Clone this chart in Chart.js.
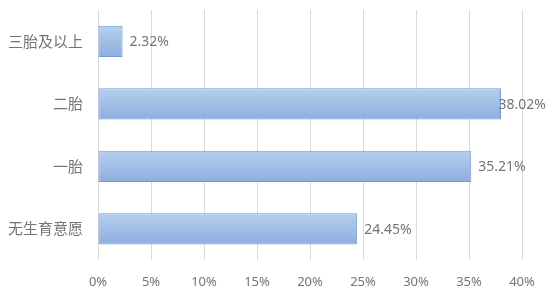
<!DOCTYPE html>
<html>
<head>
<meta charset="utf-8">
<script src="https://cdn.jsdelivr.net/npm/chart.js@4/dist/chart.umd.min.js"></script>
<style>
html,body{margin:0;padding:0;background:#fff;}
#wrap{width:550px;height:297px;position:relative;}
</style>
</head>
<body>
<div id="wrap"><canvas id="c" width="550" height="297"></canvas></div>
<script>
const categories = ["三胎及以上", "二胎", "一胎", "无生育意愿"];
const values = [2.32, 38.02, 35.21, 24.45];
const tickValues = [0, 5, 10, 15, 20, 25, 30, 35, 40];

const labelPlugin = {
  id: 'endLabels',
  afterDatasetsDraw(chart) {
    const ctx = chart.ctx;
    const meta = chart.getDatasetMeta(0);
    ctx.save();
    ctx.font = '14px "Noto Sans", sans-serif';
    ctx.fillStyle = '#747474';
    ctx.textBaseline = 'middle';
    meta.data.forEach((bar, i) => {
      const txt = values[i].toFixed(2) + '%';
      const w = ctx.measureText(txt).width;
      let x = bar.x + 7;
      if (x + w > chart.width - 4) x = chart.width - 4 - w;
      ctx.fillText(txt, x, bar.y + 1);
    });
    ctx.restore();
  }
};

new Chart(document.getElementById('c'), {
  type: 'bar',
  data: {
    labels: categories,
    datasets: [{
      data: values,
      backgroundColor: (context) => {
        const chart = context.chart;
        const ys = chart.scales && chart.scales.y;
        if (!ys || !chart.chartArea || context.dataIndex === undefined) return '#a3bfe8';
        const cy = ys.getPixelForValue(context.dataIndex);
        const half = (ys.height / categories.length) * 0.25;
        const g = chart.ctx.createLinearGradient(0, cy - half, 0, cy + half);
        g.addColorStop(0, '#b6cfee');
        g.addColorStop(1, '#8eaedf');
        return g;
      },
      borderColor: '#7199d2',
      borderWidth: 1,
      borderSkipped: false,
      categoryPercentage: 0.5,
      barPercentage: 1.0
    }]
  },
  options: {
    indexAxis: 'y',
    responsive: false,
    animation: false,
    devicePixelRatio: 1,
    layout: { padding: { top: 0, right: 28, left: 0, bottom: 0 } },
    plugins: { legend: { display: false }, tooltip: { enabled: false } },
    scales: {
      x: {
        min: 0, max: 40,
        afterBuildTicks: (s) => { s.ticks = tickValues.map(v => ({ value: v })); },
        afterFit: (s) => { s.height = 37; },
        grid: { color: '#d9d9d9', lineWidth: 1, drawTicks: false },
        border: { display: false },
        ticks: {
          padding: 14,
          color: '#747474',
          font: { family: '"Noto Sans", sans-serif', size: 13 },
          callback: (v) => v + '%'
        }
      },
      y: {
        afterFit: (s) => { s.width = 98; s.paddingTop = 10; s.paddingBottom = 0; },
        grid: { display: false, drawTicks: false },
        border: { display: false },
        ticks: {
          padding: 15,
          color: '#747474',
          font: { family: '"Noto Sans CJK SC", sans-serif', size: 15 }
        }
      }
    }
  },
  plugins: [labelPlugin]
});
</script>
</body>
</html>
